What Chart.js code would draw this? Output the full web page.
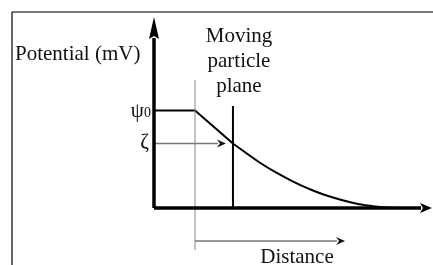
<!DOCTYPE html>
<html>
<head>
<meta charset="utf-8">
<script src="https://cdn.jsdelivr.net/npm/chart.js@4.4.1/dist/chart.umd.min.js"></script>
<style>
  html, body { margin: 0; padding: 0; background: #fff; }
  #wrap { width: 433px; height: 265px; }
</style>
</head>
<body>
<div id="wrap"><canvas id="zeta"></canvas></div>
<script>
// valores (distancia em unidades arbitrarias, potencial em mV)
const curveX = [2.83, 3.8, 4.37, 4.95, 5.59, 6.13, 7.31, 7.92, 8.53, 8.82];
const curveY = [33.8, 23.7, 18.6, 14.1, 9.8, 6.8, 2.1, 0.8, 0.1, 0];
const psi0 = 51;
const zeta = 33.8;
const sternX = 1.47;      // plano fino (cinza)
const shearX = 2.83;      // plano de cisalhamento
const axisEndX = 9.57;    // base da seta do eixo x
const axisEndY = 89;      // base da seta do eixo y
const zetaArrowEnd = 2.29;
const distanceY = -17.3;
const distanceEnd = 6.56;

const serif = '"Liberation Serif", "DejaVu Serif", serif';

function pts(xs, ys) {
    return xs.map((x, i) => ({ x: x, y: ys[i] }));
}

function linha(data, cor, largura, extra) {
    return Object.assign({
        data: data,
        borderColor: cor,
        borderWidth: largura,
        pointRadius: 0,
        showLine: true,
        fill: false,
        clip: false,
        tension: 0
    }, extra || {});
}

// setas desenhadas no fim de cada dataset marcado com "seta"
const setas = {
    id: 'setas',
    afterDatasetsDraw(chart) {
        const ctx = chart.ctx;
        chart.data.datasets.forEach((ds, i) => {
            if (!ds.seta) return;
            const meta = chart.getDatasetMeta(i);
            const n = meta.data.length;
            const a = meta.data[n - 2], b = meta.data[n - 1];
            const ang = Math.atan2(b.y - a.y, b.x - a.x);
            const len = ds.seta.len, half = ds.seta.half;
            ctx.save();
            ctx.translate(b.x, b.y);
            ctx.rotate(ang);
            ctx.beginPath();
            ctx.moveTo(len, 0);
            ctx.lineTo(-1, -half);
            ctx.lineTo(2, 0);
            ctx.lineTo(-1, half);
            ctx.closePath();
            ctx.fillStyle = ds.seta.cor || '#000';
            ctx.fill();
            ctx.restore();
        });
    }
};

// moldura e textos
const textos = {
    id: 'textos',
    afterDraw(chart) {
        const ctx = chart.ctx;
        const sx = chart.scales.x, sy = chart.scales.y;
        ctx.save();
        ctx.strokeStyle = '#777';
        ctx.lineWidth = 2;
        ctx.beginPath();
        ctx.moveTo(12, 12); ctx.lineTo(433, 12);
        ctx.stroke();
        ctx.strokeStyle = '#333';
        ctx.lineWidth = 1.5;
        ctx.beginPath();
        ctx.moveTo(12, 12); ctx.lineTo(12, 265);
        ctx.stroke();

        ctx.fillStyle = '#111';
        ctx.textBaseline = 'alphabetic';
        ctx.font = '21px ' + serif;
        ctx.textAlign = 'left';
        ctx.fillText('Potential (mV)', 15, 60);

        ctx.textAlign = 'center';
        const mx = sx.getPixelForValue(shearX) + 6;
        ctx.fillText('Moving', mx, 42);
        ctx.fillText('particle', mx, 67);
        ctx.fillText('plane', mx, 92);

        ctx.fillText('Distance', 297, 263);

        // psi0 e zeta ao lado do eixo
        const x0 = sx.getPixelForValue(0);
        ctx.textAlign = 'right';
        ctx.font = '14px ' + serif;
        ctx.fillText('0', x0 - 3, sy.getPixelForValue(psi0) + 6);
        ctx.font = '21px ' + serif;
        ctx.fillText('\u03C8', x0 - 10, sy.getPixelForValue(psi0) + 6);
        ctx.fillText('\u03B6', x0 - 5, sy.getPixelForValue(zeta) + 5);
        ctx.restore();
    }
};

const config = {
    type: 'scatter',
    data: {
        datasets: [
            // eixos
            linha([{ x: 0, y: 0 }, { x: 0, y: axisEndY }], '#000', 3.5, { seta: { len: 21, half: 5 } }),
            linha([{ x: 0, y: 0 }, { x: axisEndX, y: 0 }], '#000', 3.5, { seta: { len: 11, half: 5 } }),
            // planos
            linha([{ x: sternX, y: -22 }, { x: sternX, y: 67 }], '#888', 1),
            linha([{ x: shearX, y: 0 }, { x: shearX, y: 53.4 }], '#000', 2),
            // potencial: patamar psi0 e queda linear ate o plano
            linha([{ x: 0, y: psi0 }, { x: sternX, y: psi0 }, { x: shearX, y: zeta }], '#000', 2),
            linha(pts(curveX, curveY), '#000', 2, { tension: 0.4, cubicInterpolationMode: 'monotone' }),
            // setas finas
            linha([{ x: 0, y: zeta }, { x: zetaArrowEnd, y: zeta }], '#777', 1.5, { seta: { len: 8, half: 4, cor: '#111' } }),
            linha([{ x: sternX, y: distanceY }, { x: distanceEnd, y: distanceY }], '#777', 1.5, { seta: { len: 8, half: 4, cor: '#111' } })
        ]
    },
    options: {
        responsive: true,
        maintainAspectRatio: false,
        animation: false,
        layout: { padding: { left: 154, top: 17, right: 0, bottom: 57 } },
        scales: {
            x: { type: 'linear', min: 0, max: 10, display: false },
            y: { type: 'linear', min: 0, max: 100, display: false }
        },
        plugins: {
            legend: { display: false },
            tooltip: { enabled: false }
        }
    },
    plugins: [setas, textos]
};

new Chart(document.getElementById('zeta').getContext('2d'), config);
</script>
</body>
</html>
